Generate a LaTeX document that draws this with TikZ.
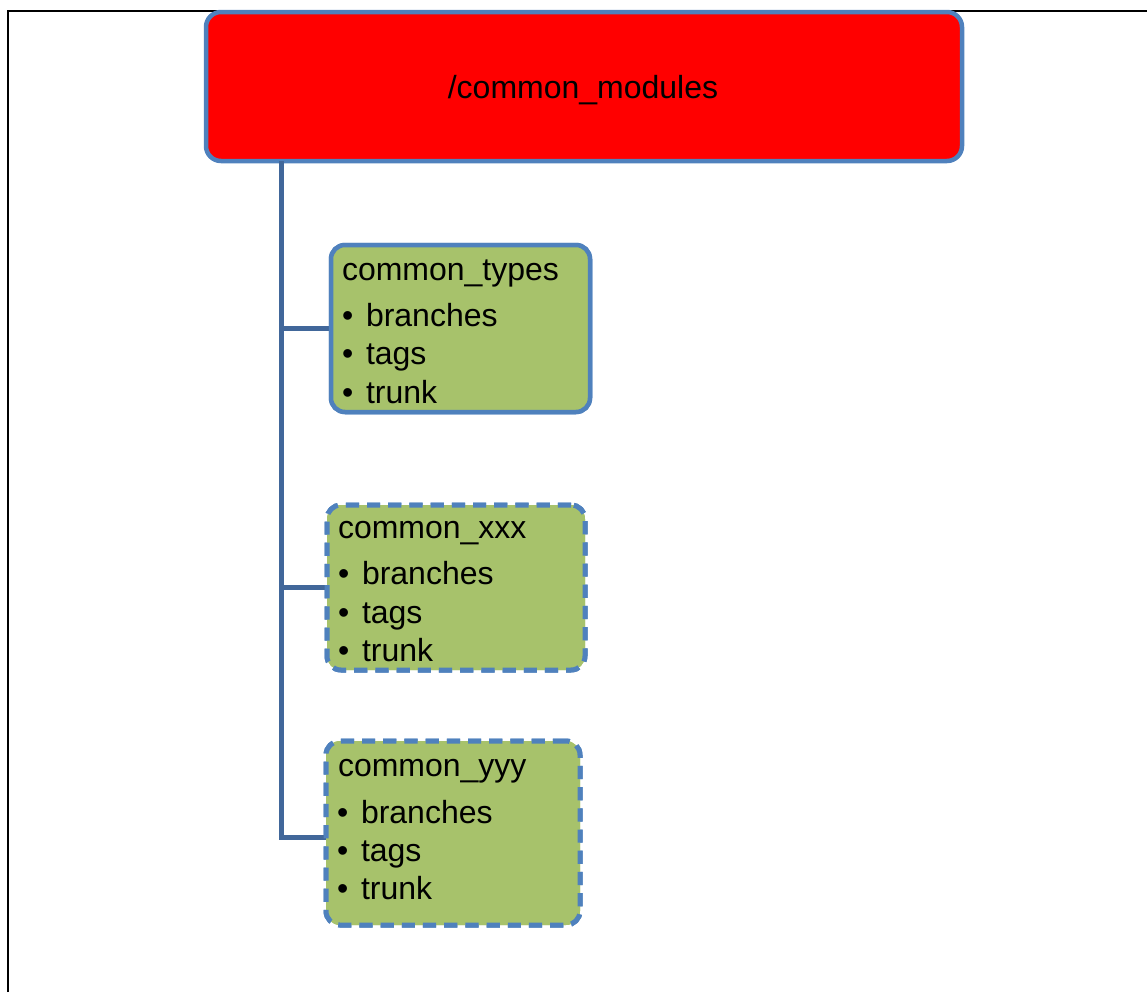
\documentclass[tikz,border=0pt]{standalone}
\usepackage{fontspec}
\setmainfont{Liberation Sans}
\definecolor{boxblue}{HTML}{4F81BD}
\definecolor{linkblue}{HTML}{41679A}
\definecolor{rootred}{HTML}{FF0000}
\definecolor{leafgreen}{HTML}{A7C26B}
\begin{document}
\begin{tikzpicture}[x=0.5pt,y=-0.5pt,
  every node/.style={inner sep=0pt, outer sep=0pt},
  rootbox/.style={draw=boxblue, fill=rootred, line width=2.25pt,
    rounded corners=7.5pt, minimum width=378pt, minimum height=74.5pt},
  leafbox/.style={draw=boxblue, fill=leafgreen, line width=2.25pt,
    rounded corners=7pt},
  planned/.style={leafbox, line width=2.5pt, dash pattern=on 6.6pt off 4pt},
  label/.style={anchor=base west, font=\fontsize{16pt}{19.2pt}\selectfont},
  link/.style={draw=linkblue, line width=2.5pt}]

  \useasboundingbox (0,0) rectangle (1147,992);

  % page frame
  \draw[black, line width=1pt] (8,992) -- (8,11) -- (1147,11);

  % spine position
  \coordinate (spine) at (281,163);

  % boxes
  \node[rootbox] (root) at (584,86.5) {};
  \node[leafbox, minimum width=129.5pt, minimum height=83.5pt] (types) at (460.5,328.5) {};
  \node[planned, minimum width=129pt, minimum height=82.5pt] (xxx) at (456,587.5) {};
  \node[planned, minimum width=127pt, minimum height=92pt] (yyy) at (453,833) {};

  % connectors
  \draw[link] (spine |- root.south) |- ([yshift=-2pt]yyy.west);
  \draw[link] (spine |- types.west) -- (types.west);
  \draw[link] (spine |- xxx.west) -- (xxx.west);

  % redraw boxes above the connector ends
  \node[leafbox, minimum width=129.5pt, minimum height=83.5pt] at (types) {};
  \node[planned, minimum width=129pt, minimum height=82.5pt] at (xxx) {};
  \node[planned, minimum width=127pt, minimum height=92pt] at (yyy) {};

  % root title
  \node[font=\fontsize{16pt}{19.2pt}\selectfont, anchor=base] (roottitle) at (583,98) {/common\_modules};

  % common_types
  \node[label] (typestitle) at (342,280) {common\_types};
  \node[label] (typesb1) at (342,326) {•};
  \node[label] (typesi1) at (366,326) {branches};
  \node[label] (typesb2) at (342,364) {•};
  \node[label] (typesi2) at (366,364) {tags};
  \node[label] (typesb3) at (342,403) {•};
  \node[label] (typesi3) at (366,403) {trunk};

  % common_xxx
  \node[label] (xxxtitle) at (338,538) {common\_xxx};
  \node[label] (xxxb1) at (338,584) {•};
  \node[label] (xxxi1) at (362,584) {branches};
  \node[label] (xxxb2) at (338,623) {•};
  \node[label] (xxxi2) at (362,623) {tags};
  \node[label] (xxxb3) at (338,661) {•};
  \node[label] (xxxi3) at (362,661) {trunk};

  % common_yyy
  \node[label] (yyytitle) at (338,776) {common\_yyy};
  \node[label] (yyyb1) at (337,823) {•};
  \node[label] (yyyi1) at (361,823) {branches};
  \node[label] (yyyb2) at (337,861) {•};
  \node[label] (yyyi2) at (361,861) {tags};
  \node[label] (yyyb3) at (337,899) {•};
  \node[label] (yyyi3) at (361,899) {trunk};
\end{tikzpicture}
\end{document}
